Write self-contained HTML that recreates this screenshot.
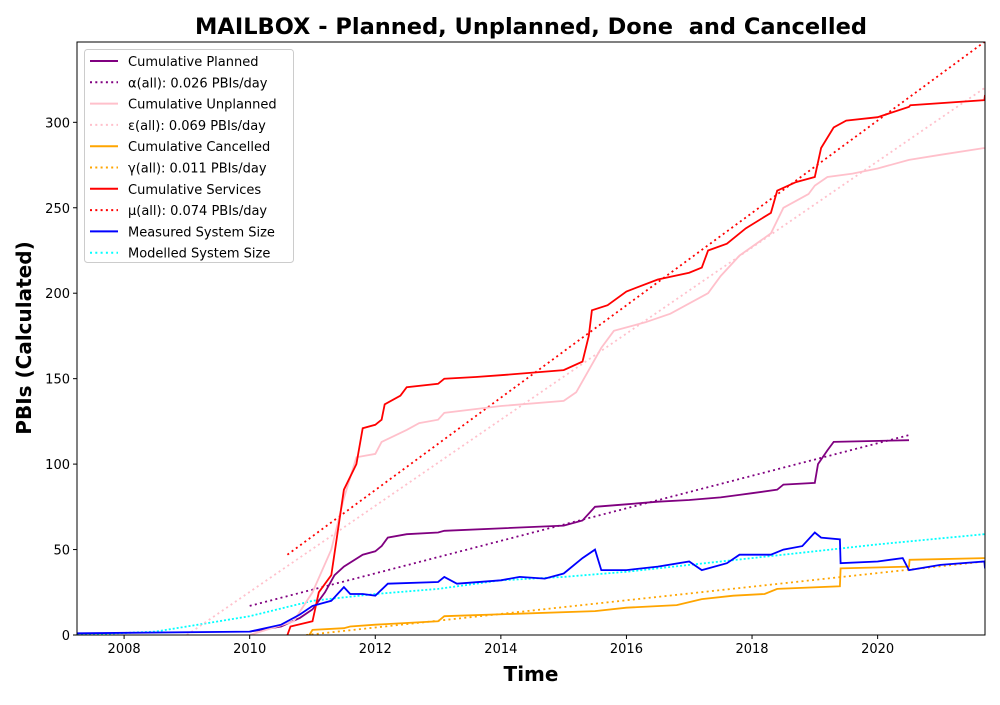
<!DOCTYPE html>
<html><head><meta charset="utf-8"><style>
body{margin:0;background:#fff;font-family:"Liberation Sans","DejaVu Sans",sans-serif}
svg text{font-family:"DejaVu Sans","Liberation Sans",sans-serif}
</style></head><body>
<svg id="chart" width="1000" height="700" xmlns="http://www.w3.org/2000/svg">
<rect width="1000" height="700" fill="#fff"/>
<text x="531" y="34" text-anchor="middle" font-size="22.5" font-weight="bold" style="white-space:pre">MAILBOX - Planned, Unplanned, Done  and Cancelled</text>
<g id="marks"></g>
<g id="axes"></g>
<text x="531" y="681" text-anchor="middle" font-size="20" font-weight="bold">Time</text>
<text transform="translate(31,338) rotate(-90)" text-anchor="middle" font-size="20" font-weight="bold">PBIs (Calculated)</text>
<g id="legend"></g>
</svg>
<script>
const xTicks=[2008,2010,2012,2014,2016,2018,2020];
const yTicks=[0,50,100,150,200,250,300];
const plannedX=[2010,2010.5,2010.8,2011,2011.2,2011.35,2011.5,2011.8,2012,2012.1,2012.2,2012.5,2013,2013.1,2015,2015.3,2015.5,2016,2016.5,2017,2017.5,2017.8,2018,2018.4,2018.5,2019,2019.05,2019.2,2019.3,2020.5];
const plannedY=[2,5,10,15,25,35,40,47,49,52,57,59,60,61,64,67,75,76.5,78,79,80.5,82,83,85,88,89,100,108,113,114];
const unplannedX=[2010,2010.7,2011,2011.3,2011.5,2011.7,2012,2012.1,2012.5,2012.7,2013,2013.1,2014,2015,2015.2,2015.4,2015.6,2015.8,2016.3,2016.7,2017.3,2017.5,2017.8,2018.3,2018.5,2018.9,2019,2019.2,2019.6,2020,2020.5,2021,2021.7];
const unplannedY=[0,8,25,50,80,104,106,113,120,124,126,130,134,137,142,155,168,178,183,188,200,210,222,235,250,258,263,268,270,273,278,281,285];
const cancelledX=[2010.95,2011,2011.5,2011.6,2012,2013,2013.1,2015.5,2016,2016.8,2017.2,2017.7,2018.2,2018.4,2019.4,2019.41,2020.5,2020.51,2021.7];
const cancelledY=[0,3,4,5,6,8,11,14,16,17.5,21,23,24,27,28.5,39,40,44,45];
const servicesX=[2010.6,2010.65,2011,2011.1,2011.3,2011.4,2011.5,2011.7,2011.8,2012,2012.1,2012.15,2012.4,2012.5,2013,2013.1,2013.6,2014,2015,2015.3,2015.4,2015.45,2015.7,2016,2016.5,2017,2017.2,2017.3,2017.6,2017.9,2018.3,2018.4,2018.7,2019,2019.1,2019.3,2019.5,2020,2020.5,2020.52,2021.7,2021.71];
const servicesY=[0,5,8,25,35,60,85,100,121,123,126,135,140,145,147,150,151,152,155,160,175,190,193,201,208,212,215,225,229,238,247,260,265,268,285,297,301,303,309,310,313,316];
const measuredX=[2007.25,2010,2010.5,2010.8,2011,2011.3,2011.5,2011.6,2011.8,2012,2012.2,2013,2013.1,2013.3,2014,2014.3,2014.7,2015,2015.3,2015.5,2015.6,2016,2016.5,2017,2017.2,2017.6,2017.8,2018.3,2018.5,2018.8,2019,2019.1,2019.4,2019.41,2020,2020.4,2020.5,2021,2021.7,2021.71];
const measuredY=[1,2,6,12,17,20,28,24,24,23,30,31,34,30,32,34,33,36,45,50,38,38,40,43,38,42,47,47,50,52,60,57,56,42,43,45,38,41,43,39];
const modelledX=[2007.25,2008.5,2009,2010,2011,2012,2013,2014,2015,2016,2017,2018,2019,2020,2021.7];
const modelledY=[0,2,5,11,20,24,27,32,34,37,41,45,49,53,59];
const fitPlannedX=[2010,2020.5],fitPlannedY=[17,117];
const fitUnplannedX=[2009,2021.7],fitUnplannedY=[0,320];
const fitCancelledX=[2010.9,2021.7],fitCancelledY=[0,43];
const fitServicesX=[2010.6,2021.7],fitServicesY=[47,347];

const L=77,R=985,T=42,B=635,x0=2007.25,x1=2021.71,y0=0,y1=347;
const sx=v=>L+(v-x0)/(x1-x0)*(R-L), sy=v=>B-(v-y0)/(y1-y0)*(B-T);
const NS='http://www.w3.org/2000/svg';
function mk(tag,attrs,parent){const e=document.createElementNS(NS,tag);for(const k in attrs)e.setAttribute(k,attrs[k]);parent.appendChild(e);return e;}
const marks=document.getElementById('marks');
const defs=mk('clipPath',{id:'clip'},marks);mk('rect',{x:L,y:T,width:R-L,height:B-T},defs);
function line(xs,ys,color,dash,name){
  const d=xs.map((x,i)=>(i?'L':'M')+sx(x).toFixed(1)+','+sy(ys[i]).toFixed(1)).join('');
  const p=mk('path',{d:d,fill:'none',stroke:color,'stroke-width':1.8,'stroke-dasharray':dash||'none','clip-path':'url(#clip)'},marks);
  
  
}
line(modelledX,modelledY,'cyan','2,2','modelled-system-size-line');
line(fitPlannedX,fitPlannedY,'purple','2,3.3','planned-fit-line');
line(fitUnplannedX,fitUnplannedY,'pink','2,3.3','unplanned-fit-line');
line(fitCancelledX,fitCancelledY,'orange','2,3.3','cancelled-fit-line');
line(fitServicesX,fitServicesY,'red','2,3.3','services-fit-line');
line(plannedX,plannedY,'purple',null,'cumulative-planned-line');
line(unplannedX,unplannedY,'pink',null,'cumulative-unplanned-line');
line(cancelledX,cancelledY,'orange',null,'cumulative-cancelled-line');
line(servicesX,servicesY,'red',null,'cumulative-services-line');
line(measuredX,measuredY,'blue',null,'measured-system-size-line');

const axes=document.getElementById('axes');
const fr=mk('rect',{x:L,y:T,width:R-L,height:B-T,fill:'none',stroke:'#000','stroke-width':1},axes);


xTicks.forEach(v=>{const x=sx(v);mk('line',{x1:x,x2:x,y1:B,y2:B+4,stroke:'#000'},axes);
  const t=mk('text',{x:x,y:B+18,'text-anchor':'middle','font-size':13},axes);t.textContent=v;
  
  });
yTicks.forEach(v=>{const y=sy(v);mk('line',{x1:L-4,x2:L,y1:y,y2:y,stroke:'#000'},axes);
  const t=mk('text',{x:L-7,y:y+5,'text-anchor':'end','font-size':13},axes);t.textContent=v;
  
  });

const legendLabels=['Cumulative Planned','α(all): 0.026 PBIs/day','Cumulative Unplanned','ε(all): 0.069 PBIs/day','Cumulative Cancelled','γ(all): 0.011 PBIs/day','Cumulative Services','μ(all): 0.074 PBIs/day','Measured System Size','Modelled System Size'];
const legendColors=['purple','purple','pink','pink','orange','orange','red','red','blue','cyan'];
const legendDash=[0,1,0,1,0,1,0,1,0,1];
const lg=document.getElementById('legend');
const box=mk('rect',{x:84.5,y:49.5,width:209,height:213,fill:'#fff','fill-opacity':0.8,stroke:'#ccc',rx:3},lg);


legendLabels.forEach((s,i)=>{const y=61+i*21.3;
  const g=mk('g',{},lg);
  
  
  mk('line',{x1:90,x2:118,y1:y,y2:y,stroke:legendColors[i],'stroke-width':2,'stroke-dasharray':legendDash[i]?'2,3.3':'none'},g);
  const t=mk('text',{x:128,y:y+5,'font-size':13},g);t.textContent=s;});
</script>
</body></html>
